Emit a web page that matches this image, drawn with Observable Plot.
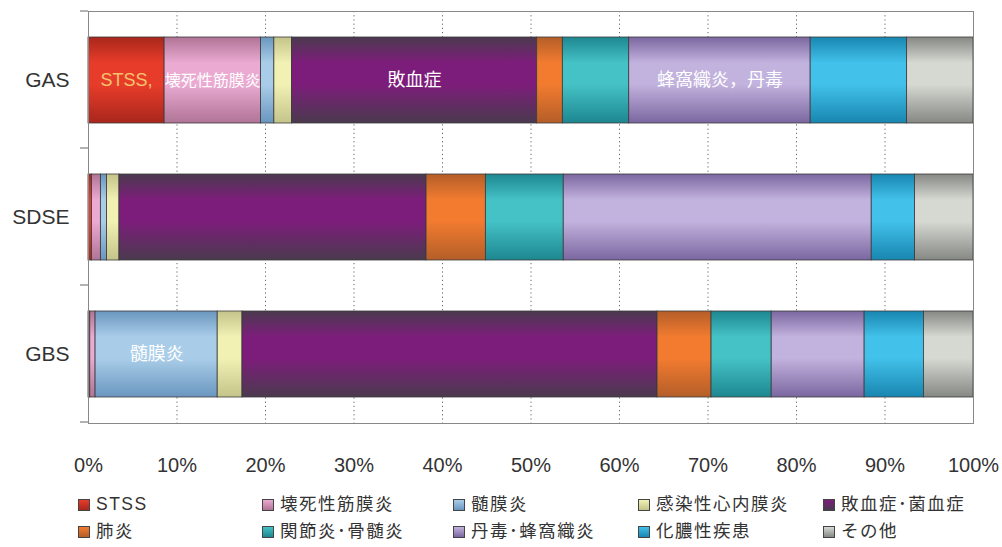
<!DOCTYPE html>
<html><head><meta charset="utf-8">
<script src="https://cdn.jsdelivr.net/npm/d3@7"></script>
<script src="https://cdn.jsdelivr.net/npm/@observablehq/plot@0.6"></script>
<style>
body{margin:0;background:#fff;font-family:"Liberation Sans","Noto Sans CJK JP",sans-serif;}
#wrap{position:relative;width:1002px;height:547px;overflow:hidden;}
#chart svg{display:block;}
.leg{position:absolute;font-size:17.5px;color:#333;display:flex;align-items:center;white-space:nowrap;line-height:1;letter-spacing:1.5px;}
.sw{width:12px;height:12px;border:1px solid #444;margin-right:6px;box-sizing:border-box;}
</style></head><body>
<div id="wrap"><div id="chart"></div></div>
<script>
// ---- data ----
const groups = ["GAS", "SDSE", "GBS"];
const categories = ["STSS", "壊死性筋膜炎", "髄膜炎", "感染性心内膜炎", "敗血症･菌血症",
                    "肺炎", "関節炎･骨髄炎", "丹毒･蜂窩織炎", "化膿性疾患", "その他"];
const gasValues  = [8.6, 10.9, 1.5, 2.0, 27.7, 2.9, 7.5, 20.5, 10.9, 7.5];
const sdseValues = [0.4, 1.0, 0.7, 1.4, 34.7, 6.7, 8.8, 34.8, 4.9, 6.6];
const gbsValues  = [0.2, 0.6, 13.8, 2.8, 46.9, 6.1, 6.8, 10.5, 6.7, 5.6];
const xTicks = [0, 10, 20, 30, 40, 50, 60, 70, 80, 90, 100];
const barLabels = [
  {group: "GAS", category: "STSS", text: "STSS,"},
  {group: "GAS", category: "壊死性筋膜炎", text: "壊死性筋膜炎"},
  {group: "GAS", category: "敗血症･菌血症", text: "敗血症"},
  {group: "GAS", category: "丹毒･蜂窩織炎", text: "蜂窩織炎，丹毒"},
  {group: "GBS", category: "髄膜炎", text: "髄膜炎"}
];
// colours: [edge, middle]
const colorPairs = [
  ["#a8271b", "#e83c2b"], ["#b07496", "#eaaad2"], ["#6a96bf", "#a9cde9"],
  ["#c4c48a", "#f1f1b4"], ["#4a3a4e", "#7d1d7b"], ["#b45e28", "#f27b30"],
  ["#1d8790", "#45c2c6"], ["#7b67a0", "#c2b2de"], ["#1886b0", "#42c1ea"],
  ["#868884", "#d6d8d2"]
];
const valueSets = [gasValues, sdseValues, gbsValues];
const rows = groups.flatMap((g, gi) => categories.map((c, ci) => ({
  group: g, category: c, ci, value: valueSets[gi][ci]
})));
const labelOf = d => {
  const l = barLabels.find(b => b.group === d.group && b.category === d.category);
  return l ? l.text : "";
};

const FONT = '"Liberation Sans","Noto Sans CJK JP",sans-serif';
const plot = Plot.plot({
  width: 1002, height: 480,
  marginLeft: 88, marginRight: 29, marginTop: 11, marginBottom: 57,
  style: {fontFamily: FONT, color: "#333", background: "#fff"},
  x: {domain: [0, 100], label: null},
  y: {domain: groups, paddingInner: 0.374, paddingOuter: 0.187, label: null},
  color: {type: "identity"},
  marks: [
    Plot.gridX({ticks: xTicks.slice(1, -1), stroke: "#666", strokeOpacity: 1, strokeDasharray: "1.2,3"}),
    Plot.barX(rows, Plot.stackX({
      x: "value", y: "group", order: null,
      fill: d => `url(#grad${d.ci})`, stroke: "#3a3a3a", strokeWidth: 0.8
    })),
    Plot.text(rows, Plot.stackX({
      x: "value", y: "group", order: null,
      text: labelOf,
      fill: d => d.ci === 0 ? "#f4c46c" : "#ffffff",
      fontSize: d => d.ci === 1 ? 16 : 18
    })),
    Plot.frame({stroke: "#888"}),
    Plot.axisX({ticks: xTicks, tickFormat: d => d + "%", tickSize: 0, tickPadding: 34, fontSize: 20}),
    Plot.axisY({tickSize: 0, tickPadding: 19, fontSize: 21})
  ]
});

// gradients
const svg = d3.select(plot);
const defs = svg.insert("defs", ":first-child");
colorPairs.forEach(([edge, mid], i) => {
  const g = defs.append("linearGradient").attr("id", `grad${i}`)
    .attr("x1", 0).attr("y1", 0).attr("x2", 0).attr("y2", 1);
  [[0, edge], [0.3, mid], [0.55, mid], [1, edge]].forEach(([o, c]) =>
    g.append("stop").attr("offset", o).attr("stop-color", c));
});
// category boundary ticks on the y axis
const ys = plot.scale("y");
const xs = plot.scale("x");
const start = ys.range[0] + (ys.paddingOuter - ys.paddingInner / 2) * ys.step;
const bounds = d3.range(groups.length + 1).map(k => start + k * ys.step);
svg.append("g").selectAll("line").data(bounds).join("line")
  .attr("x1", xs.range[0] - 8).attr("x2", xs.range[0])
  .attr("y1", d => d).attr("y2", d => d)
  .attr("stroke", "#666");
document.getElementById("chart").appendChild(plot);

// legend
const legendCols = [78, 262, 453, 638, 823];
const legendRows = [505, 532];
const wrap = document.getElementById("wrap");
categories.forEach((c, i) => {
  const div = document.createElement("div");
  div.className = "leg";
  div.style.left = legendCols[i % 5] + "px";
  div.style.top = (legendRows[Math.floor(i / 5)] - 9) + "px";
  div.style.height = "18px";
  const sw = document.createElement("span");
  sw.className = "sw";
  sw.style.background = `linear-gradient(${colorPairs[i][1]}, ${colorPairs[i][0]})`;
  div.appendChild(sw);
  div.appendChild(document.createTextNode(c));
  wrap.appendChild(div);
});
</script>
</body></html>
